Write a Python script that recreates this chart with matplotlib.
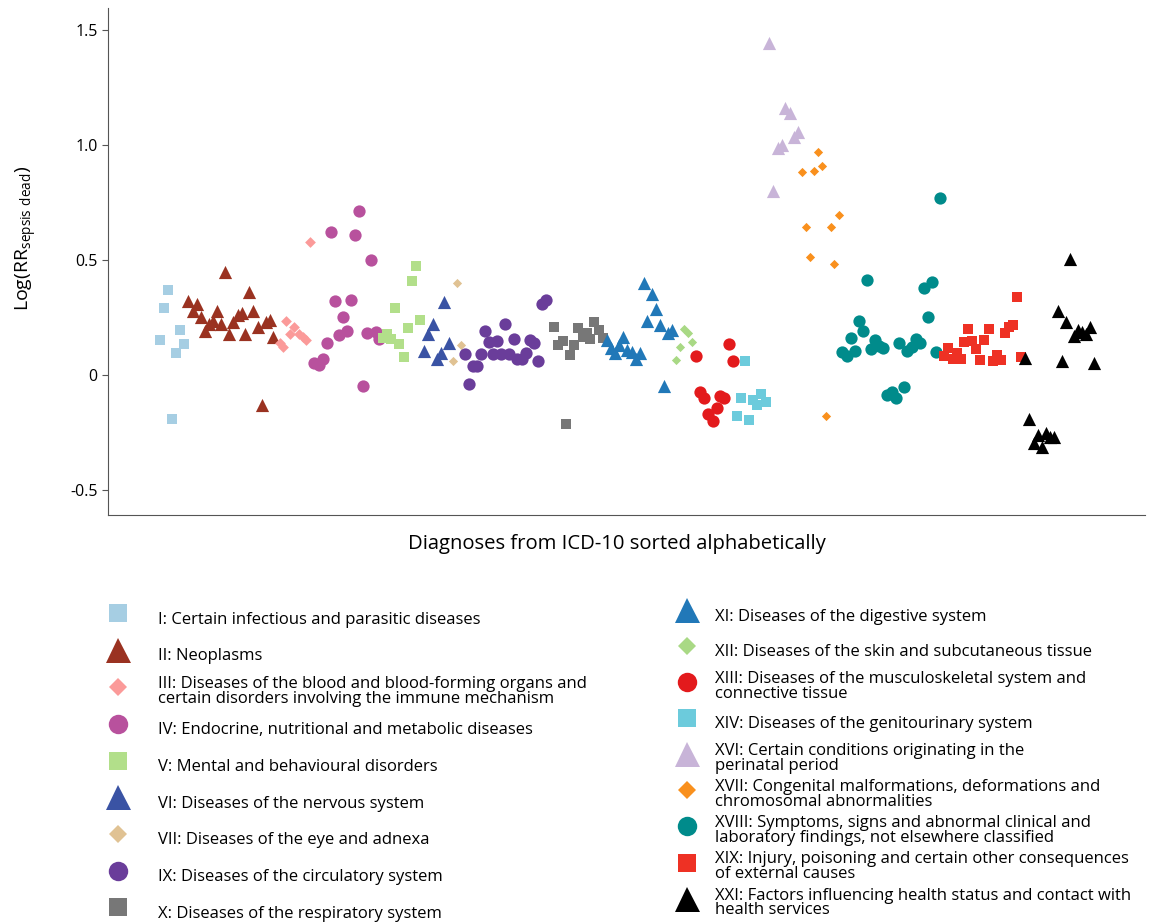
import matplotlib
matplotlib.use('Agg')
import matplotlib.pyplot as plt
from matplotlib.lines import Line2D

plt.rcParams['font.family'] = ['Open Sans', 'DejaVu Sans']
plt.rcParams['mathtext.fontset'] = 'custom'
plt.rcParams['mathtext.rm'] = 'Open Sans'

# positions along the alphabetical list of diagnoses, and log(RR) values per ICD chapter
x_I = [60, 56, 72, 52, 76, 68, 64]
y_I = [0.37, 0.29, 0.196, 0.152, 0.135, 0.096, -0.19]

x_II = [80, 89, 85, 93, 109, 141, 101, 105, 113, 97, 121, 125, 130, 134, 145, 137, 150, 158, 162, 165, 154, 117]
y_II = [0.32, 0.31, 0.28, 0.25, 0.28, 0.36, 0.22, 0.235, 0.22, 0.19, 0.18, 0.23, 0.26, 0.27, 0.28, 0.18, 0.21,
        0.23, 0.24, 0.165, -0.13, 0.45]

x_III = [202, 178, 186, 182, 191, 195, 198, 172, 175]
y_III = [0.58, 0.235, 0.21, 0.18, 0.18, 0.165, 0.15, 0.14, 0.12]

x_IV = [251, 223, 247, 263, 227, 243, 235, 239, 231, 219, 215, 206, 211, 255, 259, 268, 271]
y_IV = [0.713, 0.62, 0.61, 0.50, 0.32, 0.327, 0.25, 0.19, 0.174, 0.14, 0.07, 0.052, 0.043, -0.048, 0.183,
        0.187, 0.157]

x_V = [308, 304, 287, 312, 300, 279, 275, 283, 291, 296]
y_V = [0.474, 0.41, 0.29, 0.24, 0.204, 0.178, 0.16, 0.155, 0.133, 0.078]

x_VI = [336, 325, 320, 341, 316, 333, 329]
y_VI = [0.317, 0.22, 0.18, 0.14, 0.105, 0.096, 0.07]

x_VII = [349, 353, 345]
y_VII = [0.40, 0.13, 0.06]

x_IX = [438, 434, 397, 377, 381, 389, 406, 422, 426, 357, 373, 385, 393, 401, 409, 414, 418, 430, 365, 369, 361]
y_IX = [0.326, 0.31, 0.22, 0.19, 0.143, 0.147, 0.157, 0.15, 0.138, 0.09, 0.09, 0.09, 0.09, 0.09, 0.07, 0.07,
        0.095, 0.06, 0.04, 0.04, -0.04]

x_X = [446, 455, 450, 462, 466, 470, 479, 475, 482, 486, 491, 495, 458]
y_X = [0.208, 0.148, 0.13, 0.087, 0.13, 0.204, 0.183, 0.167, 0.155, 0.23, 0.196, 0.16, -0.213]

x_XI = [536, 544, 548, 539, 552, 560, 564, 499, 515, 503, 511, 507, 519, 524, 532, 528, 556]
y_XI = [0.40, 0.352, 0.287, 0.235, 0.217, 0.182, 0.196, 0.152, 0.165, 0.117, 0.13, 0.096, 0.109, 0.1, 0.096,
        0.07, -0.05]

x_XII = [576, 580, 584, 572, 568]
y_XII = [0.2, 0.183, 0.145, 0.122, 0.065]

x_XIII = [621, 588, 625, 592, 596, 612, 616, 609, 600, 605]
y_XIII = [0.135, 0.083, 0.06, -0.074, -0.1, -0.09, -0.1, -0.143, -0.17, -0.2]

x_XIV = [637, 633, 645, 649, 653, 658, 629, 641]
y_XIV = [0.06, -0.1, -0.11, -0.13, -0.083, -0.118, -0.18, -0.196]

x_XVI = [661, 677, 682, 690, 686, 674, 670, 665]
y_XVI = [1.443, 1.16, 1.14, 1.057, 1.035, 1.0, 0.987, 0.80]

x_XVII = [710, 714, 706, 694, 731, 698, 723, 702, 726, 718]
y_XVII = [0.97, 0.908, 0.885, 0.882, 0.697, 0.643, 0.643, 0.514, 0.483, -0.18]

x_XVIII = [832, 759, 824, 816, 820, 751, 755, 743, 767, 791, 808, 812, 747, 734, 739, 763, 771, 775, 799, 804,
           828, 796, 784, 779, 788]
y_XVIII = [0.77, 0.413, 0.405, 0.378, 0.252, 0.235, 0.19, 0.16, 0.152, 0.139, 0.156, 0.14, 0.104, 0.1, 0.083,
           0.113, 0.126, 0.117, 0.104, 0.122, 0.1, -0.052, -0.074, -0.087, -0.1]

x_XIX = [909, 860, 881, 905, 901, 897, 856, 864, 876, 868, 840, 836, 849, 845, 853, 872, 889, 885, 893, 913]
y_XIX = [0.34, 0.2, 0.2, 0.217, 0.21, 0.183, 0.143, 0.148, 0.152, 0.113, 0.117, 0.083, 0.096, 0.07, 0.07,
         0.065, 0.087, 0.06, 0.065, 0.078]

x_XXI = [962, 950, 958, 970, 974, 982, 966, 978, 917, 954, 986, 921, 930, 938, 942, 946, 926, 934]
y_XXI = [0.504, 0.278, 0.23, 0.196, 0.187, 0.209, 0.17, 0.178, 0.074, 0.061, 0.052, -0.19, -0.26, -0.252,
         -0.27, -0.27, -0.296, -0.313]

labels = [
    'I: Certain infectious and parasitic diseases',
    'II: Neoplasms',
    'III: Diseases of the blood and blood-forming organs and\ncertain disorders involving the immune mechanism',
    'IV: Endocrine, nutritional and metabolic diseases',
    'V: Mental and behavioural disorders',
    'VI: Diseases of the nervous system',
    'VII: Diseases of the eye and adnexa',
    'IX: Diseases of the circulatory system',
    'X: Diseases of the respiratory system',
    'XI: Diseases of the digestive system',
    'XII: Diseases of the skin and subcutaneous tissue',
    'XIII: Diseases of the musculoskeletal system and\nconnective tissue',
    'XIV: Diseases of the genitourinary system',
    'XVI: Certain conditions originating in the\nperinatal period',
    'XVII: Congenital malformations, deformations and\nchromosomal abnormalities',
    'XVIII: Symptoms, signs and abnormal clinical and\nlaboratory findings, not elsewhere classified',
    'XIX: Injury, poisoning and certain other consequences\nof external causes',
    'XXI: Factors influencing health status and contact with\nhealth services',
]

groups = [
    (x_I, y_I, 's', '#a6cee3'),
    (x_II, y_II, '^', '#9a3221'),
    (x_III, y_III, 'D', '#fb9a99'),
    (x_IV, y_IV, 'o', '#b8519d'),
    (x_V, y_V, 's', '#b2df8a'),
    (x_VI, y_VI, '^', '#3a53a4'),
    (x_VII, y_VII, 'D', '#e0c293'),
    (x_IX, y_IX, 'o', '#6a3d9a'),
    (x_X, y_X, 's', '#777777'),
    (x_XI, y_XI, '^', '#2178b8'),
    (x_XII, y_XII, 'D', '#a9d985'),
    (x_XIII, y_XIII, 'o', '#e31a1c'),
    (x_XIV, y_XIV, 's', '#6ccbdc'),
    (x_XVI, y_XVI, '^', '#c8b4d8'),
    (x_XVII, y_XVII, 'D', '#f9901d'),
    (x_XVIII, y_XVIII, 'o', '#008b8b'),
    (x_XIX, y_XIX, 's', '#ee3124'),
    (x_XXI, y_XXI, '^', '#000000'),
]

size_pts = {'s': 62, '^': 90, 'o': 78, 'D': 22}
leg_size = {'s': 13, '^': 18, 'o': 14, 'D': 9}

fig = plt.figure(figsize=(11.49, 9.24), dpi=100)
ax = fig.add_axes([108 / 1149, 1 - 515 / 924, 1037 / 1149, 507 / 924])

handles = []
for (xs, ys, m, c), lab in zip(groups, labels):
    s = size_pts[m]
    if c == '#fb9a99':
        s = 30
    ax.scatter(xs, ys, marker=m, s=s, c=c, linewidths=0)
    handles.append(Line2D([], [], marker=m, color=c, linestyle='None', markersize=leg_size[m],
                          markeredgewidth=0, label=lab))

ax.set_xlim(0, 1037)
ax.set_ylim(-0.609, 1.596)
ax.set_xticks([])
ax.set_yticks([-0.5, 0, 0.5, 1.0, 1.5])
ax.set_yticklabels(['-0.5', '0', '0.5', '1.0', '1.5'])
ax.tick_params(axis='y', labelsize=11.5, length=4, color='#555555')
for side in ['top', 'right']:
    ax.spines[side].set_visible(False)
for side in ['left', 'bottom']:
    ax.spines[side].set_color('#555555')
ax.set_xlabel('Diagnoses from ICD-10 sorted alphabetically', fontsize=14.6)
ax.xaxis.set_label_coords(0.491, -0.038)
ax.set_ylabel(r'Log(RR$_{\mathrm{sepsis\ dead}}$)', fontsize=14)
ax.yaxis.set_label_coords(-0.067, 0.545)

common = dict(frameon=False, fontsize=12, handlelength=1.66, handleheight=2.5,
              borderpad=0, borderaxespad=0, loc='upper left')
leg1 = fig.legend(handles=handles[:9], bbox_to_anchor=(104 / 1149, 1 - 603 / 924), handletextpad=1.55,
                  labelspacing=0.33, **common)
leg2 = fig.legend(handles=handles[9:], bbox_to_anchor=(673 / 1149, 1 - 600 / 924), handletextpad=0.85,
                  labelspacing=0.26, **common)
for lg in (leg1, leg2):
    for t in lg.get_texts():
        t.set_linespacing(0.9)

fig.savefig('out.png', dpi=100)
